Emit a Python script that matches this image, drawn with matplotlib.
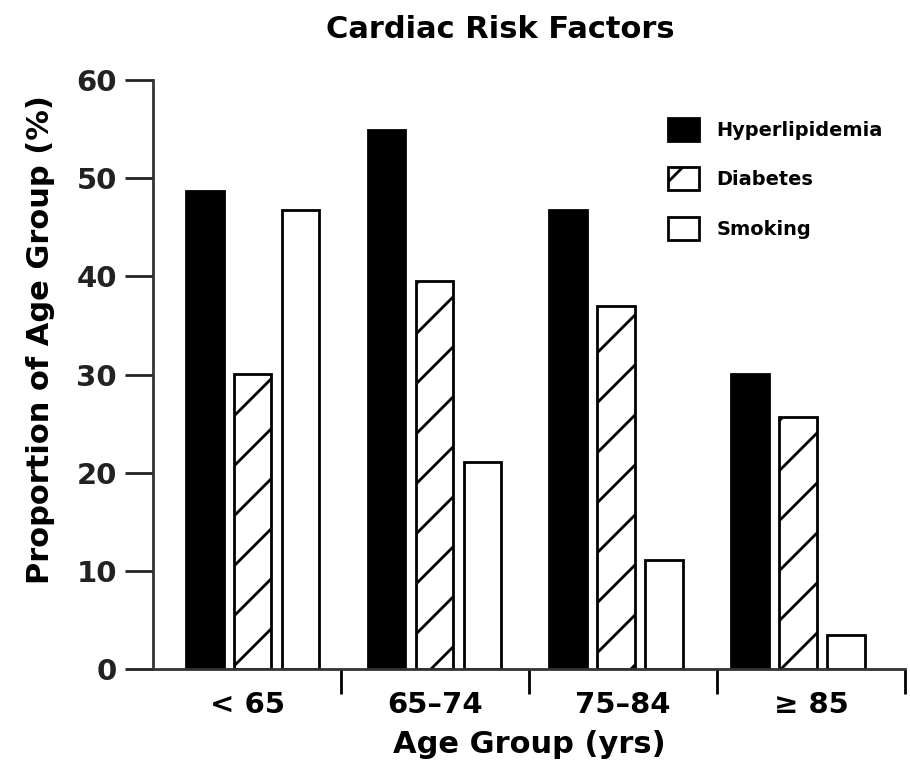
import numpy as np
import matplotlib
matplotlib.use('Agg')
import matplotlib.pyplot as plt

# Datos
grupos = ['< 65', '65\u201374', '75\u201384', '\u2265 85']
hiperlipidemia = [48.7, 54.9, 46.8, 30.1]
diabetes = [30.1, 39.5, 37.0, 25.7]
tabaquismo = [46.8, 21.1, 11.1, 3.5]

# dpi alto para que el rayado quede espaciado como en el original
DPI = 300
def pt(v):
    # tamaño en puntos pensado para 100 dpi
    return v * 100 / DPI

plt.rcParams['font.family'] = ['DejaVu Sans']
plt.rcParams['font.weight'] = 'bold'
plt.rcParams['hatch.linewidth'] = pt(2.0)
plt.rcParams['hatch.color'] = 'black'

fig = plt.figure(figsize=(910 / DPI, 778 / DPI), dpi=DPI)
ax = fig.add_axes([153 / 910, 1 - 669 / 778, (905 - 153) / 910, (669 - 80) / 778])

# centro de cada grupo de barras (un poco mas juntos que los separadores)
x = 0.53 + np.arange(len(grupos)) * 0.967
ancho = 0.2
paso = 0.255
b1 = ax.bar(x - paso, hiperlipidemia, ancho, color='black', edgecolor='black',
            linewidth=pt(2), label='Hyperlipidemia')
b2 = ax.bar(x, diabetes, ancho, color='white', edgecolor='black', hatch='//',
            linewidth=pt(2), label='Diabetes')
b3 = ax.bar(x + paso, tabaquismo, ancho, color='white', edgecolor='black',
            linewidth=pt(2), label='Smoking')

ax.set_xlim(0, 4)
ax.set_ylim(0, 60)
ax.set_yticks(range(0, 61, 10))
ax.tick_params(axis='y', direction='out', length=pt(20), width=pt(2), pad=pt(6),
               labelsize=pt(21), colors='#222222')

# separadores entre grupos (ticks mayores) y etiquetas en el centro (ticks menores)
ax.set_xticks([1, 2, 3, 4])
ax.set_xticklabels([])
ax.set_xticks(np.arange(4) + 0.5, minor=True)
ax.set_xticklabels(grupos, minor=True)
ax.tick_params(axis='x', which='major', direction='out', length=pt(18), width=pt(2))
ax.tick_params(axis='x', which='minor', length=0, pad=pt(16), labelsize=pt(21))

for s in ['top', 'right']:
    ax.spines[s].set_visible(False)
for s in ['left', 'bottom']:
    ax.spines[s].set_linewidth(pt(2))
    ax.spines[s].set_color('#333333')

ax.set_ylabel('Proportion of Age Group (%)', fontsize=pt(22), fontweight='bold')
ax.yaxis.set_label_coords(-0.130, 0.56)
ax.set_xlabel('Age Group (yrs)', fontsize=pt(22), fontweight='bold', labelpad=pt(8))
fig.text(500 / 910, 1 - 30 / 778, 'Cardiac Risk Factors', ha='center', va='center',
         fontsize=pt(22), fontweight='bold')

ax.legend(handles=[b1, b2, b3], loc='upper left', frameon=False,
          bbox_to_anchor=(668 / 910, 1 - 118 / 778), bbox_transform=fig.transFigure,
          borderpad=0, borderaxespad=0, fontsize=pt(14), handlelength=1.6,
          handleheight=1.45, handletextpad=0.9, labelspacing=1.35)

plt.savefig('out.png', dpi=DPI)
plt.close()
